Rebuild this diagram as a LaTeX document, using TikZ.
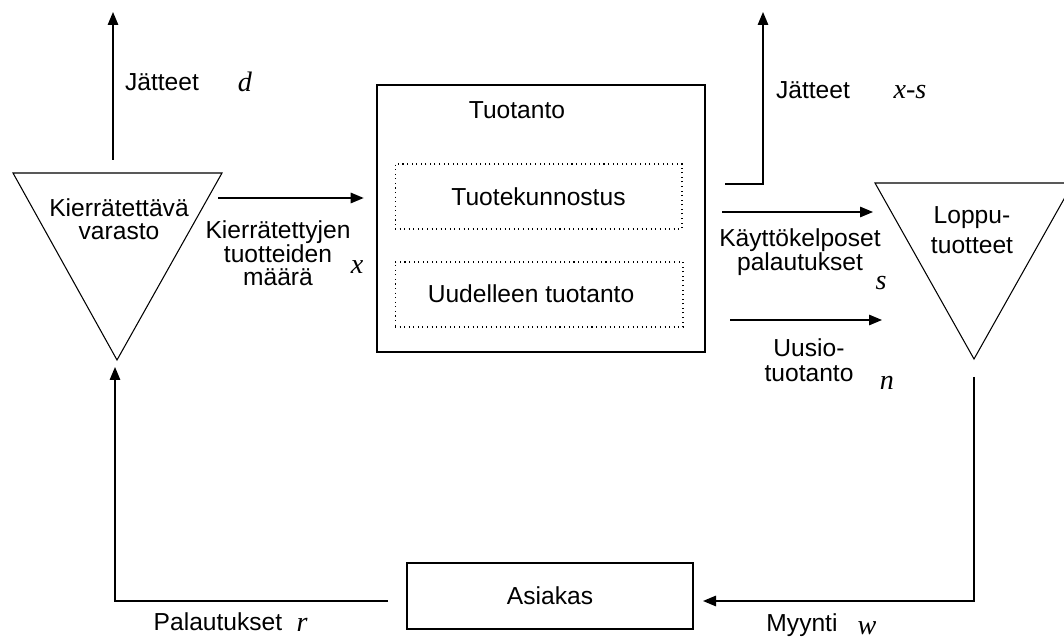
\documentclass[tikz,border=0pt]{standalone}
\usepackage{fontspec}
\setmainfont{Liberation Sans}
\newfontfamily\varfont{Liberation Serif}
\usetikzlibrary{arrows.meta}
\newcommand{\flowvar}[1]{{\varfont\itshape\fontsize{16}{16}\selectfont #1}}

\tikzset{
  flowline/.style={line width=0.8pt},
  flowarrow/.style={flowline,-{Triangle[length=2.6mm,width=2.1mm]}},
  stockline/.style={line width=0.6pt,line join=miter},
  procbox/.style={draw,line width=0.8pt,inner sep=0pt},
  subbox/.style={draw,dotted,line width=0.6pt,inner sep=0pt},
  flowlabel/.style={align=center,inner sep=0pt,font=\fontsize{14}{13}\selectfont},
}

\begin{document}
\begin{tikzpicture}[x=0.02cm,y=-0.02cm]
\useasboundingbox (0,0) rectangle (1064,641);

% varastot
\coordinate (lt-w) at (13,173);
\coordinate (lt-e) at (222,173);
\coordinate (lt-s) at (117,360);
\draw[stockline] (lt-w) -- (lt-e) -- (lt-s) -- cycle;
\node[flowlabel] (varasto) at (119,219) {Kierrätettävä\\varasto};

\coordinate (rt-w) at (875,183);
\coordinate (rt-e) at (1073,183);
\coordinate (rt-s) at (974,359);
\draw[stockline] (rt-w) -- (rt-e) -- (rt-s) -- cycle;
\node[flowlabel,font=\fontsize{14}{17}\selectfont] (loppu) at (972,230) {Loppu-\\tuotteet};

% tuotanto
\node[procbox,minimum width=6.56cm,minimum height=5.34cm] (tuotanto) at (541,218.5) {};
\node[flowlabel] (tuotantolbl) at (517,110) {Tuotanto};
\node[subbox,minimum width=5.74cm,minimum height=1.3cm,font=\fontsize{14}{13}\selectfont] (kunnostus) at (538.5,196.5) {Tuotekunnostus};
\node[subbox,minimum width=5.76cm,minimum height=1.3cm] (uudelleen) at (539,294.5) {};
\node[flowlabel] (uudelleenlbl) at (531,294) {Uudelleen tuotanto};

\node[procbox,minimum width=5.72cm,minimum height=1.32cm,font=\fontsize{14}{13}\selectfont] (asiakas) at (550,596) {Asiakas};

% jatteet vasemmalla
\coordinate (djat) at (113,160);
\coordinate (djatend) at (113,12);
\draw[flowarrow] (djat) -- (djatend);
\node[flowlabel] (jatteet1) at (162,82) {Jätteet};
\node (dvar) at (245,82) {\flowvar{d}};

% kierratetyt
\coordinate (xout) at (218,198);
\draw[flowarrow,shorten >=9\pgflinewidth] (xout) -- (xout -| tuotanto.west);
\node[flowlabel] (xlbl) at (278,253) {Kierrätettyjen\\tuotteiden\\määrä};
\node (xvar) at (357,267) {\flowvar{x}};

% jatteet oikealla
\coordinate (sjat) at (725,184);
\coordinate (sjatend) at (763,12);
\draw[flowarrow] (sjat) -| (sjatend);
\node[flowlabel] (jatteet2) at (813,90) {Jätteet};
\node (xsvar) at (910,92) {\flowvar{x-s}};

% kayttokelposet
\coordinate (sout) at (722,212);
\coordinate (sin) at (873,212);
\draw[flowarrow] (sout) -- (sin);
\node[flowlabel,font=\fontsize{14}{12}\selectfont] (slbl) at (800,252) {Käyttökelposet\\palautukset};
\node (svar) at (881,283) {\flowvar{s}};

% uusiotuotanto
\coordinate (nout) at (730,320);
\coordinate (nin) at (882,320);
\draw[flowarrow] (nout) -- (nin);
\node[flowlabel,font=\fontsize{14}{14}\selectfont] (nlbl) at (809,360) {Uusio-\\tuotanto};
\node (nvar) at (887,383) {\flowvar{n}};

% myynti ja palautukset
\coordinate (wout) at (974,377);
\coordinate (win) at (703,601);
\draw[flowarrow] (wout) |- (win);
\node[flowlabel] (wlbl) at (802,625) {Myynti};
\node (wvar) at (867,628) {\flowvar{w}};

\coordinate (rout) at (388,601);
\coordinate (rin) at (115,367);
\draw[flowarrow] (rout) -| (rin);
\node[flowlabel] (rlbl) at (218,622) {Palautukset};
\node (rvar) at (302,625) {\flowvar{r}};
\end{tikzpicture}
\end{document}
